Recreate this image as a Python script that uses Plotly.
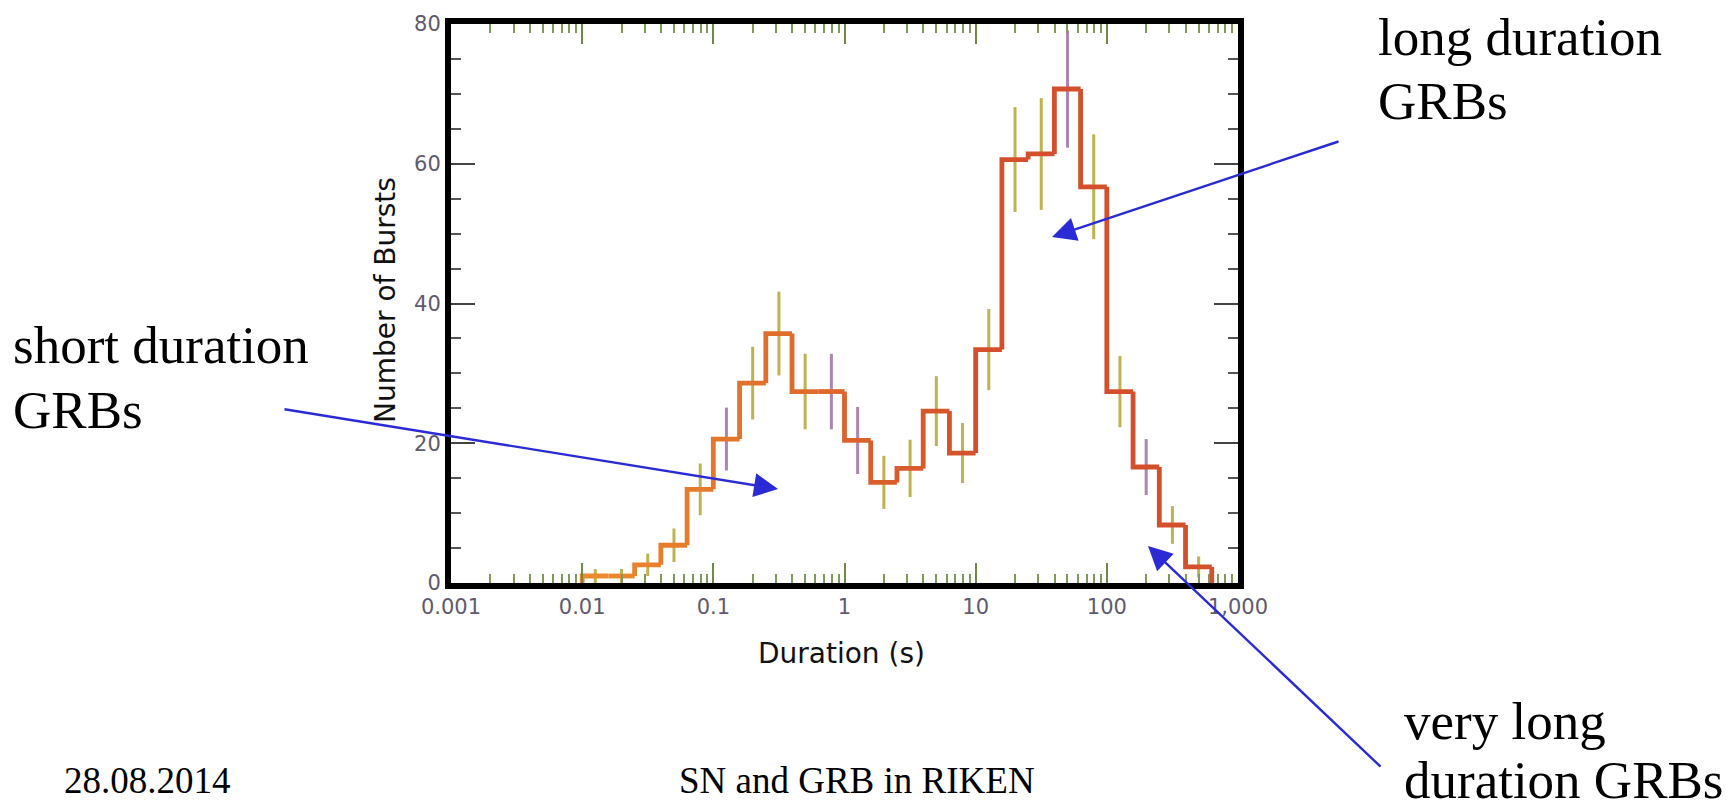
import plotly.graph_objects as go

# ---------------- data ----------------
# histogram bin edges in log10(duration / s)
log_edges = [-3.0, -2.8, -2.6, -2.4, -2.2, -2.0, -1.8, -1.6, -1.4, -1.2,
             -1.0, -0.8, -0.6, -0.4, -0.2, 0.0, 0.2, 0.4, 0.6, 0.8,
             1.0, 1.2, 1.4, 1.6, 1.8, 2.0, 2.2, 2.4, 2.6, 2.8, 3.0]
# number of bursts in each bin
counts = [0, 0, 0, 0, 0, 1, 1, 2.6, 5.4, 13.4,
          20.6, 28.6, 35.7, 27.4, 27.4, 20.4, 14.4, 16.4, 24.6, 18.6,
          33.4, 60.6, 61.4, 70.7, 56.7, 27.4, 16.6, 8.3, 2.3, 0]
# half length of the error bar of each bin
errors = [0, 0, 0, 0, 0, 1.0, 1.0, 1.6, 2.4, 3.7,
          4.5, 5.2, 6.0, 5.4, 5.4, 4.8, 3.8, 4.1, 5.0, 4.3,
          5.8, 7.5, 8.0, 8.4, 7.5, 5.1, 4.0, 2.7, 1.5, 0]

x_tick_vals = [0.001, 0.01, 0.1, 1, 10, 100, 1000]
x_tick_text = ["0.001", "0.01", "0.1", "1", "10", "100", "1,000"]
y_tick_vals = [0, 20, 40, 60, 80]
y_tick_text = ["0", "20", "40", "60", "80"]

x_title = "Duration (s)"
y_title = "Number of Bursts"
label_short = ["short duration", "GRBs"]
label_long = ["long duration", "GRBs"]
label_very_long = ["very long", "duration GRBs"]
footer_date = "28.08.2014"
footer_title = "SN and GRB in RIKEN"

# ---------------- styling / layout helpers ----------------
W_FIG, H_FIG = 1736, 812
L, R, T, B = 451, 1238, 24, 583      # plot area in pixels
PW, PH = R - L, B - T


def px(x):
    return (x - L) / PW


def py(y):
    return (B - y) / PH


purple_bins = {10, 14, 15, 23, 26}
olive = "rgba(180,165,50,0.85)"
purple = "rgba(160,110,165,0.85)"


def lerp_color(t):
    c0 = (236, 138, 44)
    c1 = (212, 80, 44)
    t = max(0.0, min(1.0, t))
    return "rgb(%d,%d,%d)" % tuple(round(a + (b - a) * t) for a, b in zip(c0, c1))


fig = go.Figure()

# error bars
for grp, col in [(False, olive), (True, purple)]:
    xs, ys = [], []
    for i, (v, e) in enumerate(zip(counts, errors)):
        if v <= 0 or ((i in purple_bins) != grp):
            continue
        c = 10 ** ((log_edges[i] + log_edges[i + 1]) / 2)
        xs += [c, c, None]
        ys += [max(v - e, 0), v + e, None]
    fig.add_trace(go.Scatter(x=xs, y=ys, mode="lines",
                             line=dict(color=col, width=3),
                             hoverinfo="skip", showlegend=False))

# histogram step line (colour drifts from orange to red)
for i, v in enumerate(counts):
    prev = counts[i - 1] if i > 0 else 0
    if v == 0 and prev == 0:
        continue
    xs = [10 ** log_edges[i], 10 ** log_edges[i], 10 ** log_edges[i + 1]]
    ys = [prev, v, v]
    if v == 0:
        xs, ys = xs[:2], ys[:2]
    t = (log_edges[i] + 2.0) / 3.0
    fig.add_trace(go.Scatter(x=xs, y=ys, mode="lines",
                             line=dict(color=lerp_color(t), width=4.8),
                             hoverinfo="skip", showlegend=False))

minor_x = [m * 10 ** d for d in range(-3, 3) for m in range(2, 10)]

tickfont = dict(family="DejaVu Sans", size=21, color="#5f5a6e")

fig.update_layout(
    width=W_FIG, height=H_FIG,
    margin=dict(l=L, r=W_FIG - R, t=T, b=H_FIG - B, pad=0),
    paper_bgcolor="white", plot_bgcolor="white",
    showlegend=False,
    xaxis=dict(
        type="log", range=[-3, 3],
        tickmode="array", tickvals=x_tick_vals, ticktext=x_tick_text,
        ticks="inside", ticklen=20, tickwidth=2, tickcolor="#6f8a45",
        showline=True, linewidth=6, linecolor="black", mirror="ticks",
        showgrid=False, zeroline=False, tickfont=tickfont,
        minor=dict(tickmode="array", tickvals=minor_x, ticks="inside",
                   ticklen=9, tickwidth=2, tickcolor="#7f9a58", showgrid=False),
    ),
    yaxis=dict(
        range=[0, 80],
        tickmode="array", tickvals=y_tick_vals, ticktext=y_tick_text,
        ticks="inside", ticklen=24, tickwidth=2, tickcolor="#444444",
        showline=True, linewidth=6, linecolor="black", mirror="ticks",
        showgrid=False, zeroline=False, tickfont=tickfont,
        minor=dict(dtick=5, tick0=0, ticks="inside", ticklen=10,
                   tickwidth=2, tickcolor="#555555", showgrid=False),
    ),
)

ann = []
# axis titles
ann.append(dict(text=x_title, x=px(841), y=py(653), xref="paper", yref="paper",
                xanchor="center", yanchor="middle", showarrow=False,
                font=dict(family="DejaVu Sans", size=28, color="#111111")))
ann.append(dict(text=y_title, x=px(385), y=py(300), xref="paper", yref="paper",
                xanchor="center", yanchor="middle", showarrow=False, textangle=-90,
                font=dict(family="DejaVu Sans", size=28, color="#111111")))

serif = dict(family="Liberation Serif", size=53, color="black")
for text, x, yc in [(label_long[0], 1376, 37), (label_long[1], 1376, 101),
                    (label_short[0], 11, 345), (label_short[1], 11, 410),
                    (label_very_long[0], 1402, 721), (label_very_long[1], 1402, 780)]:
    ann.append(dict(text=text, x=px(x), y=py(yc), xref="paper", yref="paper",
                    xanchor="left", yanchor="middle", showarrow=False, font=serif))

foot = dict(family="Liberation Serif", size=37, color="black")
ann.append(dict(text=footer_date, x=px(62), y=py(781), xref="paper", yref="paper",
                xanchor="left", yanchor="middle", showarrow=False, font=foot))
ann.append(dict(text=footer_title, x=px(857), y=py(781), xref="paper", yref="paper",
                xanchor="center", yanchor="middle", showarrow=False, font=foot))

# arrows (tip, tail) in pixels
for tip, tail in [((778, 489), (283, 409)),
                  ((1052, 237), (1340, 141)),
                  ((1148, 546), (1382, 768))]:
    ann.append(dict(text="", x=px(tip[0]), y=py(tip[1]), xref="paper", yref="paper",
                    ax=tail[0] - tip[0], ay=tail[1] - tip[1],
                    axref="pixel", ayref="pixel",
                    showarrow=True, arrowhead=2, arrowsize=2.0, arrowwidth=2.4,
                    arrowcolor="#2b2bd6", standoff=0, startstandoff=0))

fig.update_layout(annotations=ann)

fig.write_html("out.html")
